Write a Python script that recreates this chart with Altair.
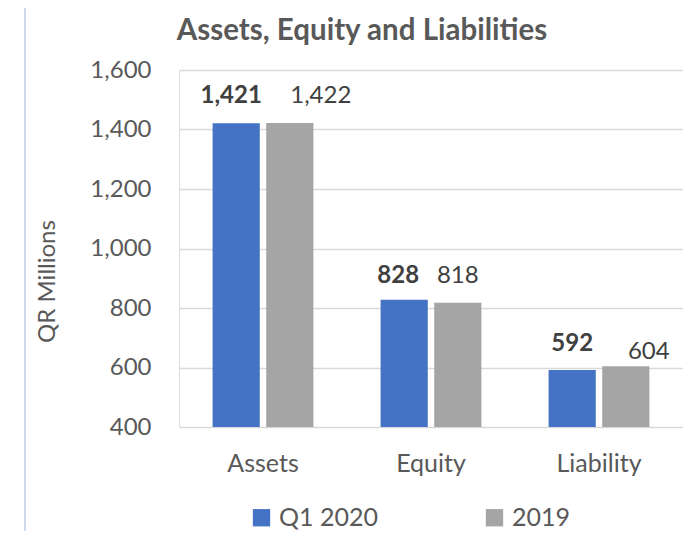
import altair as alt
import pandas as pd

categories = ["Assets", "Equity", "Liability"]
series = ["Q1 2020", "2019"]
q1_2020 = [1421, 828, 592]
y2019 = [1422, 818, 604]
y_ticks = [400, 600, 800, 1000, 1200, 1400, 1600]

rows = []
for c, a, b in zip(categories, q1_2020, y2019):
    rows.append({"category": c, "series": "Q1 2020", "value": a, "label": f"{a:,}"})
    rows.append({"category": c, "series": "2019", "value": b, "label": f"{b:,}"})
df = pd.DataFrame(rows)

FONT = "Lato"
TXT = "#595959"
LBL = "#404040"
colors = ["#4472C4", "#A5A5A5"]

x_enc = alt.X("category:N", sort=categories, title=None,
              scale=alt.Scale(paddingInner=0.40, paddingOuter=0.2),
              axis=alt.Axis(labelFontSize=25, labelColor=TXT, labelFont=FONT,
                            labelAngle=0, ticks=False, domain=False, labelPadding=24))
xoff = alt.XOffset("series:N", sort=series, scale=alt.Scale(paddingInner=0.12))
y_enc = alt.Y("value:Q", title="QR Millions",
              scale=alt.Scale(domain=[400, 1600], clamp=True, nice=False, zero=False),
              axis=alt.Axis(values=y_ticks, format=",.0f", labelFontSize=24, labelColor=TXT,
                            labelFont=FONT, ticks=False, domain=False, labelPadding=28,
                            grid=True, gridColor="#D9D9D9", gridWidth=1.5,
                            titleFontSize=24, titleFont=FONT, titleColor=TXT,
                            titleFontWeight="normal", titlePadding=30, titleY=211))

bars = alt.Chart(df).mark_bar().encode(
    x=x_enc, xOffset=xoff, y=y_enc,
    color=alt.Color("series:N", sort=series, scale=alt.Scale(domain=series, range=colors),
                    legend=alt.Legend(title=None, orient="none", direction="horizontal",
                                      legendX=70, legendY=435, symbolType="square",
                                      symbolSize=300, symbolStrokeWidth=0,
                                      labelFontSize=25, labelColor=TXT, labelFont=FONT,
                                      columnPadding=104, labelOffset=5, padding=0)),
)

# label nudges (dx, dy) per series/category, as placed in the original
nudges = {
    ("Q1 2020", "Assets"): (-5, -20), ("Q1 2020", "Equity"): (-6, -17),
    ("Q1 2020", "Liability"): (0, -19),
    ("2019", "Assets"): (31, -20), ("2019", "Equity"): (0, -20),
    ("2019", "Liability"): (23, -7),
}
label_layers = []
for (ser, cat), (ddx, ddy) in nudges.items():
    label_layers.append(
        alt.Chart(df).transform_filter(
            (alt.datum.series == ser) & (alt.datum.category == cat)
        ).mark_text(baseline="alphabetic", dx=ddx, dy=ddy, fontSize=24, font=FONT, color=LBL,
                    fontWeight="bold" if ser == "Q1 2020" else "normal")
        .encode(x=x_enc, xOffset=xoff, y=y_enc, text="label:N")
    )

frame_left = alt.Chart(df).mark_rule(color="#CFDBF0", strokeWidth=1.5).encode(
    x=alt.value(-154), y=alt.value(-63), y2=alt.value(470))
frame_top = alt.Chart(df).mark_rule(color="#EEF2FA", strokeWidth=1.5).encode(
    x=alt.value(-154), x2=alt.value(520), y=alt.value(-63))

chart = alt.layer(frame_left, frame_top, bars, *label_layers).properties(
    width=504, height=357,
    autosize=alt.AutoSizeParams(type="none"),
    padding={"left": 171, "top": 62, "right": 0, "bottom": 104},
    title=alt.TitleParams("Assets, Equity and Liabilities", fontSize=29.5, font=FONT,
                          fontWeight="bold", color=TXT, anchor="middle", frame="bounds",
                          offset=-40),
).configure_view(stroke=None).configure(background="white")

chart.save("out.html", embed_options={"renderer": "svg", "actions": False})
